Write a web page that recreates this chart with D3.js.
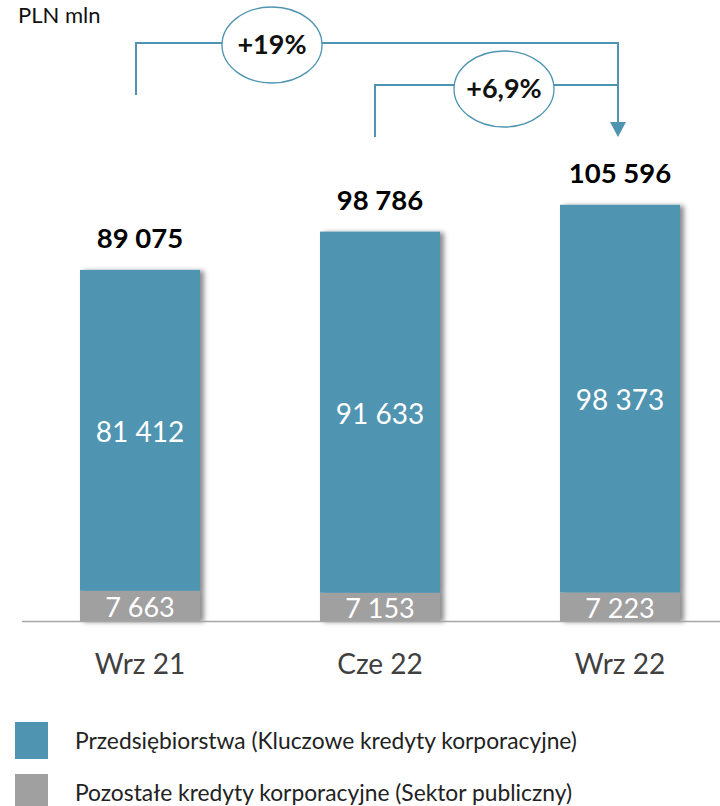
<!DOCTYPE html>
<html>
<head>
<meta charset="utf-8">
<script src="https://cdn.jsdelivr.net/npm/d3@7"></script>
<style>
  html, body { margin: 0; padding: 0; background: #fff; }
  svg { display: block; font-family: Lato, "Open Sans", sans-serif; }
</style>
</head>
<body>
<svg id="chart" width="720" height="806"></svg>
<script>
const categories = ["Wrz 21", "Cze 22", "Wrz 22"];
const seriesNames = ["Przedsiębiorstwa (Kluczowe kredyty korporacyjne)", "Pozostałe kredyty korporacyjne (Sektor publiczny)"];
const corporate = [81412, 91633, 98373];
const publicSector = [7663, 7153, 7223];
const totals = [89075, 98786, 105596];
const growthLabels = ["+19%", "+6,9%"];
const unitLabel = "PLN mln";
const colors = ["#4f94b1", "#a0a0a0"];

const fmt = v => d3.format(",")(v).replace(/,/g, " ");

const svg = d3.select("#chart");
const defs = svg.append("defs");
const f = defs.append("filter").attr("id", "shadow").attr("x", "-10%").attr("y", "-10%").attr("width", "130%").attr("height", "120%");
f.append("feDropShadow").attr("dx", 4).attr("dy", 1).attr("stdDeviation", 2.5).attr("flood-color", "#000").attr("flood-opacity", 0.45);

const x = d3.scaleBand().domain(categories).range([20, 740]).paddingInner(0.5).paddingOuter(0.25);
const y = d3.scaleLinear().domain([0, 110000]).range([621, 187.4]);

// unit label
svg.append("text").attr("x", 18).attr("y", 23).attr("font-size", 22).attr("fill", "#111").text(unitLabel);

// bars
const g = svg.append("g");
categories.forEach((c, i) => {
  const bg = g.append("g").attr("filter", "url(#shadow)");
  bg.append("rect").attr("x", x(c)).attr("width", x.bandwidth())
    .attr("y", y(publicSector[i])).attr("height", y(0) - y(publicSector[i])).attr("fill", colors[1]);
  bg.append("rect").attr("x", x(c)).attr("width", x.bandwidth())
    .attr("y", y(publicSector[i] + corporate[i])).attr("height", y(publicSector[i]) - y(publicSector[i] + corporate[i])).attr("fill", colors[0]);
});
categories.forEach((c, i) => {
  const cx = x(c) + x.bandwidth() / 2;
  g.append("text").attr("x", cx).attr("y", (y(publicSector[i]) + y(publicSector[i] + corporate[i])) / 2 + 2)
    .attr("dy", "0.35em").attr("text-anchor", "middle").attr("fill", "#fff").attr("font-size", 28).text(fmt(corporate[i]));
  g.append("text").attr("x", cx).attr("y", (y(0) + y(publicSector[i])) / 2 + 2)
    .attr("dy", "0.35em").attr("text-anchor", "middle").attr("fill", "#fff").attr("font-size", 27).text(fmt(publicSector[i]));
  g.append("text").attr("x", cx).attr("y", y(totals[i]) - 22)
    .attr("text-anchor", "middle").attr("fill", "#000").attr("font-weight", "bold").attr("font-size", 27.5).text(fmt(totals[i]));
});

// axis baseline
svg.append("line").attr("x1", 22).attr("x2", 720).attr("y1", 621.5).attr("y2", 621.5).attr("stroke", "#a6a6a6").attr("stroke-width", 1.5);

// category labels
categories.forEach((c) => {
  svg.append("text").attr("x", x(c) + x.bandwidth() / 2).attr("y", 674).attr("text-anchor", "middle")
    .attr("fill", "#404040").attr("font-size", 28).text(c);
});

// growth annotations
const lineColor = "#4f94b1";
const c0 = x(categories[0]) + x.bandwidth() / 2 - 4;
const c1 = x(categories[1]) + x.bandwidth() / 2 - 5;
const c2 = x(categories[2]) + x.bandwidth() / 2 - 2;
const ann = svg.append("g").attr("fill", "none").attr("stroke", lineColor).attr("stroke-width", 2);
ann.append("path").attr("d", `M${c0},95 V43 H${c2} V124`);
ann.append("path").attr("d", `M${c1},137 V85 H${c2}`);
svg.append("path").attr("d", `M${c2 - 8},122 L${c2 + 8},122 L${c2},137 Z`).attr("fill", lineColor);
const ells = [{cx: 272, cy: 45, t: growthLabels[0]}, {cx: 504, cy: 89, t: growthLabels[1]}];
ells.forEach(e => {
  svg.append("ellipse").attr("cx", e.cx).attr("cy", e.cy).attr("rx", 50).attr("ry", 38)
    .attr("fill", "#fff").attr("stroke", lineColor).attr("stroke-width", 1.3);
  svg.append("text").attr("x", e.cx).attr("y", e.cy).attr("dy", "0.35em").attr("text-anchor", "middle")
    .attr("font-weight", "bold").attr("font-size", 27).attr("fill", "#111").text(e.t);
});

// legend
seriesNames.forEach((s, i) => {
  const ly = 722 + i * 52;
  svg.append("rect").attr("x", 15).attr("y", ly).attr("width", 33).attr("height", 37).attr("fill", colors[i]);
  svg.append("text").attr("x", 75).attr("y", ly + 19).attr("dy", "0.35em").attr("font-size", 22.8).attr("fill", "#222").text(s);
});
</script>
</body>
</html>
